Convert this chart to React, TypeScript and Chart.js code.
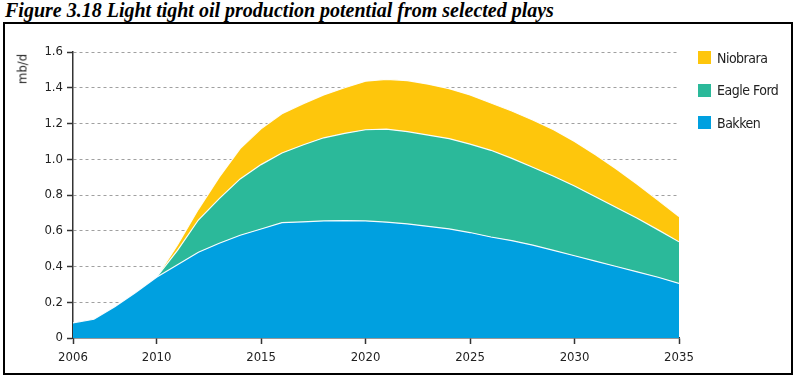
import React, { useEffect, useRef } from 'react';
import { Chart, registerables } from 'chart.js';
Chart.register(...registerables);

const title = 'Figure 3.18 Light tight oil production potential from selected plays';
const yAxisTitle = 'mb/d';
const years = [2006, 2007, 2008, 2009, 2010, 2011, 2012, 2013, 2014, 2015, 2016, 2017, 2018, 2019, 2020,
  2021, 2022, 2023, 2024, 2025, 2026, 2027, 2028, 2029, 2030, 2031, 2032, 2033, 2034, 2035];
const bakken = [0.085, 0.105, 0.175, 0.255, 0.34, 0.41, 0.48, 0.53, 0.575, 0.61, 0.645, 0.65, 0.655, 0.657, 0.655,
  0.648, 0.638, 0.625, 0.61, 0.59, 0.565, 0.545, 0.52, 0.49, 0.46, 0.43, 0.40, 0.37, 0.34, 0.305];
const eagleFord = [0, 0, 0, 0, 0, 0.08, 0.18, 0.25, 0.315, 0.36, 0.39, 0.43, 0.465, 0.488, 0.51,
  0.52, 0.517, 0.51, 0.505, 0.495, 0.485, 0.46, 0.435, 0.415, 0.39, 0.36, 0.33, 0.30, 0.265, 0.233];
const niobrara = [0, 0, 0, 0, 0, 0.03, 0.06, 0.12, 0.17, 0.20, 0.22, 0.23, 0.24, 0.255, 0.272,
  0.279, 0.285, 0.285, 0.28, 0.275, 0.265, 0.265, 0.265, 0.26, 0.25, 0.235, 0.215, 0.19, 0.165, 0.142];
const xTickValues = [2006, 2010, 2015, 2020, 2025, 2030, 2035];
const legendItems = [
  { label: 'Niobrara', color: '#FEC60C' },
  { label: 'Eagle Ford', color: '#2BB99A' },
  { label: 'Bakken', color: '#00A0E0' },
];

const tickFont = { family: '"DejaVu Sans Condensed", "DejaVu Sans", sans-serif', size: 13 };

export default function App() {
  const ref = useRef<HTMLCanvasElement | null>(null);

  useEffect(() => {
    document.body.style.margin = '0';
    const canvas = ref.current;
    if (!canvas) return;
    const seg = {
      borderColor: (ctx: any) =>
        ctx.p0.parsed.y === 0 && ctx.p1.parsed.y === 0 ? 'rgba(0,0,0,0)' : 'rgba(255,255,255,0.95)',
    };
    const mk = (label: string, data: number[], color: string, fill: any) => ({
      label,
      data: data.map((v, i) => ({ x: years[i], y: v })),
      backgroundColor: color,
      borderColor: 'rgba(255,255,255,0.95)',
      borderWidth: 1.2,
      pointRadius: 0,
      fill,
      tension: 0,
      segment: seg,
    });
    const chart = new Chart(canvas, {
      type: 'line',
      data: {
        datasets: [
          mk('Bakken', bakken, legendItems[2].color, 'origin'),
          mk('Eagle Ford', eagleFord, legendItems[1].color, '-1'),
          mk('Niobrara', niobrara, legendItems[0].color, '-1'),
        ],
      },
      options: {
        animation: false,
        responsive: false,
        maintainAspectRatio: false,
        layout: { padding: { left: 0, top: 52, right: 117, bottom: 0 } },
        plugins: { legend: { display: false }, tooltip: { enabled: false } },
        scales: {
          x: {
            type: 'linear',
            min: 2006,
            max: 2035,
            afterBuildTicks: (scale: any) => {
              scale.ticks = xTickValues.map((v) => ({ value: v }));
            },
            afterFit: (scale: any) => {
              scale.height = 41;
            },
            ticks: {
              font: tickFont,
              color: '#222',
              padding: 6,
              maxRotation: 0,
              autoSkip: false,
              callback: (v: any) => String(v),
            },
            grid: {
              drawOnChartArea: false,
              drawTicks: true,
              tickLength: 6,
              tickColor: '#333',
              tickWidth: 1.5,
            },
            border: { display: true, color: '#333', width: 1.5 },
          },
          y: {
            stacked: true,
            min: 0,
            max: 1.6,
            afterFit: (scale: any) => {
              scale.width = 73;
            },
            ticks: {
              stepSize: 0.2,
              font: tickFont,
              color: '#222',
              padding: 4,
              callback: (v: any) => (v === 0 ? '0' : Number(v).toFixed(1)),
            },
            grid: {
              drawOnChartArea: true,
              drawTicks: true,
              tickLength: 6,
              tickColor: '#333',
              tickWidth: 1.5,
              color: (c: any) => (c.tick && c.tick.value === 0 ? 'rgba(0,0,0,0)' : '#a0a0a0'),
              lineWidth: 1,
            },
            border: { display: true, color: '#333', width: 1.5, dash: [3, 3] },
          },
        },
      },
    });
    return () => chart.destroy();
  }, []);

  return (
    <div style={{ position: 'relative', width: 796, height: 379, background: '#fff', overflow: 'hidden' }}>
      <div
        style={{
          position: 'absolute',
          left: 5,
          top: 0,
          fontFamily: '"Liberation Serif", "Times New Roman", serif',
          fontWeight: 'bold',
          fontStyle: 'italic',
          fontSize: 20,
          lineHeight: '21px',
          color: '#000',
          whiteSpace: 'nowrap',
        }}
      >
        {title}
      </div>
      <div
        style={{
          position: 'absolute',
          left: 3,
          top: 22,
          width: 786,
          height: 349,
          border: '2px solid #000',
        }}
      />
      <canvas ref={ref} width={796} height={379} style={{ position: 'absolute', left: 0, top: 0 }} />
      <div
        style={{
          position: 'absolute',
          left: 22,
          top: 69,
          transform: 'translate(-50%, -50%) rotate(-90deg)',
          fontFamily: tickFont.family,
          fontSize: 13,
          color: '#222',
          whiteSpace: 'nowrap',
        }}
      >
        {yAxisTitle}
      </div>
      {legendItems.map((it, i) => (
        <div
          key={it.label}
          style={{
            position: 'absolute',
            left: 698,
            top: 51 + i * 32.5,
            height: 13,
            display: 'flex',
            alignItems: 'center',
            whiteSpace: 'nowrap',
          }}
        >
          <div style={{ width: 13, height: 13, background: it.color, flex: 'none' }} />
          <span
            style={{
              marginLeft: 6,
              fontFamily: '"DejaVu Sans Condensed", "DejaVu Sans", sans-serif',
              fontSize: 14,
              letterSpacing: '-0.5px',
              color: '#222',
            }}
          >
            {it.label}
          </span>
        </div>
      ))}
    </div>
  );
}
